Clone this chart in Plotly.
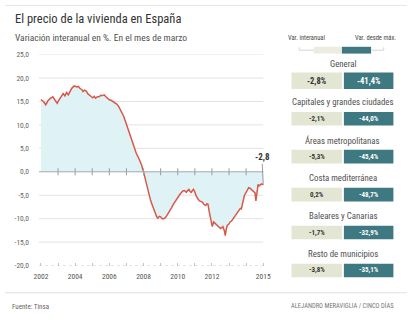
import plotly.graph_objects as go

# Variación interanual del precio de la vivienda (%), serie Tinsa
anio = [2002.00, 2002.15, 2002.28, 2002.42, 2002.57, 2002.70, 2002.82, 2002.95,
        2003.05, 2003.14, 2003.30, 2003.40, 2003.50, 2003.60, 2003.70, 2003.80, 2003.95,
        2004.10, 2004.20, 2004.27, 2004.40, 2004.46, 2004.55, 2004.65, 2004.75, 2004.84, 2004.95,
        2005.03, 2005.12, 2005.20, 2005.30, 2005.40, 2005.50, 2005.60, 2005.70, 2005.80, 2005.90,
        2006.00, 2006.12, 2006.26, 2006.35, 2006.45, 2006.55, 2006.64, 2006.74, 2006.83, 2006.92,
        2007.00, 2007.10, 2007.20, 2007.30, 2007.40, 2007.50, 2007.58, 2007.68, 2007.78, 2007.88, 2007.97,
        2008.06, 2008.14, 2008.24, 2008.33, 2008.42, 2008.52, 2008.61, 2008.70, 2008.77, 2008.84, 2008.92,
        2009.00, 2009.09, 2009.18, 2009.28, 2009.37, 2009.46, 2009.56, 2009.65, 2009.75, 2009.85, 2009.94,
        2010.04, 2010.13, 2010.22, 2010.30, 2010.40, 2010.50, 2010.58, 2010.65, 2010.72, 2010.79, 2010.86, 2010.92,
        2011.00, 2011.07, 2011.17, 2011.26, 2011.36, 2011.45, 2011.55, 2011.64, 2011.71, 2011.77, 2011.83, 2011.93,
        2012.02, 2012.10, 2012.20, 2012.30, 2012.40, 2012.50, 2012.58, 2012.64, 2012.72, 2012.78, 2012.84, 2012.90, 2012.98,
        2013.06, 2013.15, 2013.25, 2013.35, 2013.44, 2013.52, 2013.60, 2013.66, 2013.72, 2013.78, 2013.82, 2013.90,
        2014.00, 2014.08, 2014.15, 2014.22, 2014.30, 2014.38, 2014.45, 2014.52, 2014.57, 2014.63, 2014.70, 2014.76,
        2014.82, 2014.90, 2015.00]
variacion = [15.4, 15.0, 14.3, 15.2, 15.7, 16.0, 15.3, 14.6,
             15.3, 15.8, 16.7, 16.2, 16.9, 16.4, 17.2, 17.8, 18.3,
             18.1, 18.2, 17.8, 17.5, 17.1, 17.4, 17.2, 16.6, 16.25, 16.0,
             15.8, 16.1, 15.7, 16.0, 16.0, 16.3, 16.25, 16.4, 16.0, 15.6,
             15.35, 15.2, 14.9, 14.7, 14.4, 13.9, 13.3, 12.6, 11.9, 11.0,
             10.1, 9.1, 8.1, 6.9, 5.6, 4.7, 3.9, 3.2, 2.5, 1.5, 0.4,
             -1.0, -2.4, -3.8, -5.1, -6.2, -7.2, -8.2, -9.0, -9.6, -9.9, -9.5,
             -9.6, -10.0, -10.0, -9.8, -9.3, -8.8, -8.3, -7.6, -6.9, -6.3, -5.8,
             -5.3, -4.8, -4.4, -4.1, -4.0, -4.4, -4.0, -3.75, -4.2, -4.4, -4.0, -3.75,
             -4.3, -5.1, -5.7, -6.2, -6.3, -6.5, -7.0, -7.2, -6.8, -6.9, -8.3, -10.0,
             -11.7, -10.7, -11.0, -11.4, -11.8, -12.1, -11.9, -11.7, -12.5, -13.6, -12.2, -11.4, -11.2,
             -10.7, -10.5, -10.0, -9.6, -9.0, -8.6, -8.3, -7.8, -7.9, -6.8, -5.8, -5.0,
             -4.4, -3.9, -3.4, -3.5, -3.75, -3.9, -4.1, -4.5, -6.2, -4.0, -2.7, -3.0,
             -2.9, -2.6, -2.8]

y_ticks = [25, 20, 15, 10, 5, 0, -5, -10, -15, -20]
y_tick_text = ["25,0", "20,0", "15,0", "10,0", "5,0", "0,0", "-5,0", "-10,0", "-15,0", "-20,0"]
x_ticks = [2002, 2004, 2006, 2008, 2010, 2012, 2015]
x_tick_text = ["2002", "2004", "2006", "2008", "2010", "2012", "2015"]
anios_marca = [2003, 2004, 2005, 2006, 2007, 2008, 2009, 2010, 2011, 2012, 2013, 2014]

# Panel lateral: variación interanual y variación desde máximos
zonas = ["General", "Capitales y grandes ciudades", "Áreas metropolitanas",
         "Costa mediterránea", "Baleares y Canarias", "Resto de municipios"]
var_interanual = ["-2,8%", "-2,1%", "-5,3%", "0,2%", "-1,7%", "-3,8%"]
var_desde_max = ["-41,4%", "-44,0%", "-45,4%", "-48,7%", "-32,9%", "-35,1%"]

W, H = 414, 326
FONT = "Liberation Sans Narrow, Arial Narrow, Roboto Condensed, Liberation Sans, Arial, sans-serif"
LINE = "#d9584a"
FILL = "#dff3f7"
BEIGE = "#e4e6d4"
TEAL = "#3e7880"


def px(x):
    return x / W


def py(y):
    return 1 - y / H


fig = go.Figure()

fig.add_trace(go.Scatter(
    x=anio, y=variacion, mode="lines", fill="tozeroy", fillcolor=FILL,
    line=dict(color=LINE, width=1.5), hoverinfo="skip", showlegend=False))

# small year ticks on the zero line
fig.add_trace(go.Scatter(
    x=anios_marca, y=[0] * len(anios_marca), mode="markers",
    marker=dict(symbol="line-ns", size=5, line=dict(color="#9a9a9a", width=1)),
    hoverinfo="skip", showlegend=False))

shapes = []
for v in y_ticks:
    if v in (0, -20):
        continue
    shapes.append(dict(type="line", xref="paper", yref="y", x0=px(35), x1=px(266), y0=v, y1=v,
                       line=dict(color="#e2e2e2", width=1), layer="below"))
shapes.append(dict(type="line", xref="paper", yref="y", x0=px(35), x1=px(266), y0=0, y1=0,
                   line=dict(color="#a8a8a8", width=1)))
shapes.append(dict(type="line", xref="paper", yref="y", x0=px(35), x1=px(266), y0=-20, y1=-20,
                   line=dict(color="#c4c4c4", width=1, dash="dot")))

# frame lines
shapes.append(dict(type="line", xref="paper", yref="paper", x0=0, x1=1, y0=py(1.5), y1=py(1.5),
                   line=dict(color="#e6e6e6", width=1)))
shapes.append(dict(type="line", xref="paper", yref="paper", x0=0, x1=1, y0=py(297), y1=py(297),
                   line=dict(color="#e0e0e0", width=1)))

annotations = [
    dict(text="El precio de la vivienda en España", x=px(8), y=py(15), xref="paper", yref="paper",
         xanchor="left", yanchor="middle", showarrow=False,
         font=dict(family=FONT, size=12.5, color="#333333")),
    dict(text="Variación interanual en %. En el mes de marzo", x=px(8), y=py(34), xref="paper",
         yref="paper", xanchor="left", yanchor="middle", showarrow=False,
         font=dict(family=FONT, size=9.5, color="#505050")),
    dict(text="<b>-2,8</b>", x=anio[-1], y=variacion[-1], xref="x", yref="y", showarrow=True,
         arrowhead=0, arrowwidth=1, arrowcolor="#9a9a9a", ax=-1, ay=-21, yanchor="bottom",
         font=dict(family=FONT, size=9, color="#333333")),
    dict(text="Fuente: Tinsa", x=px(5), y=py(312), xref="paper", yref="paper", xanchor="left",
         yanchor="middle", showarrow=False, font=dict(family=FONT, size=7, color="#666666")),
    dict(text="ALEJANDRO MERAVIGLIA / CINCO DÍAS", x=px(403), y=py(310), xref="paper", yref="paper",
         xanchor="right", yanchor="middle", showarrow=False,
         font=dict(family=FONT, size=6.5, color="#777777")),
    dict(text="Var. interanual", x=px(310), y=py(35), xref="paper", yref="paper",
         xanchor="center", yanchor="middle", showarrow=False,
         font=dict(family=FONT, size=6.5, color="#444444")),
    dict(text="Var. desde máx.", x=px(382), y=py(35), xref="paper", yref="paper",
         xanchor="center", yanchor="middle", showarrow=False,
         font=dict(family=FONT, size=6.5, color="#444444")),
]

# legend key of the side panel
shapes.append(dict(type="rect", xref="paper", yref="paper", x0=px(318), x1=px(347), y0=py(44), y1=py(51),
                   line=dict(width=0), fillcolor="#eceddf"))
shapes.append(dict(type="rect", xref="paper", yref="paper", x0=px(347), x1=px(377), y0=py(44), y1=py(51),
                   line=dict(width=0), fillcolor=TEAL))
for xa, xb, xt in ((303, 318, 303), (377, 390, 390)):
    shapes.append(dict(type="line", xref="paper", yref="paper", x0=px(xa), x1=px(xb), y0=py(47.5), y1=py(47.5),
                       line=dict(color="#d6d6d6", width=1)))
    shapes.append(dict(type="line", xref="paper", yref="paper", x0=px(xt), x1=px(xt), y0=py(44.5), y1=py(47.5),
                       line=dict(color="#d6d6d6", width=1)))

# one row per zone
for i, zona in enumerate(zonas):
    ty = 62 + i * 39
    cy = 79 + i * 39
    h = 8.5 if i == 0 else 7
    annotations.append(dict(text=zona, x=px(348), y=py(ty), xref="paper", yref="paper",
                            xanchor="center", yanchor="middle", showarrow=False,
                            font=dict(family=FONT, size=8.8, color="#505050")))
    shapes.append(dict(type="rect", xref="paper", yref="paper", x0=px(295), x1=px(347),
                       y0=py(cy - h), y1=py(cy + h), line=dict(width=0), fillcolor=BEIGE))
    shapes.append(dict(type="rect", xref="paper", yref="paper", x0=px(349), x1=px(400),
                       y0=py(cy - h), y1=py(cy + h), line=dict(width=0), fillcolor=TEAL))
    fs = 8.5 if i == 0 else 7
    annotations.append(dict(text=f"<b>{var_interanual[i]}</b>", x=px(321), y=py(cy), xref="paper",
                            yref="paper", xanchor="center", yanchor="middle", showarrow=False,
                            font=dict(family=FONT, size=fs, color="#333333")))
    annotations.append(dict(text=f"<b>{var_desde_max[i]}</b>", x=px(374.5), y=py(cy), xref="paper",
                            yref="paper", xanchor="center", yanchor="middle", showarrow=False,
                            font=dict(family=FONT, size=fs, color="#ffffff")))

fig.update_layout(
    width=W, height=H, margin=dict(l=0, r=0, t=0, b=0),
    paper_bgcolor="white", plot_bgcolor="rgba(0,0,0,0)",
    shapes=shapes, annotations=annotations, showlegend=False,
    xaxis=dict(domain=[px(35), px(267)], range=[2001.886, 2015.06], showgrid=False, zeroline=False,
               showline=False, tickmode="array", tickvals=x_ticks, ticktext=x_tick_text,
               ticks="inside", ticklen=3, tickcolor="#c4c4c4", ticklabelstandoff=5,
               minor=dict(ticks="inside", ticklen=3, tickcolor="#c4c4c4", dtick=1, tick0=2002),
               tickfont=dict(family=FONT, size=7.5, color="#555555")),
    yaxis=dict(domain=[py(269), py(52)], range=[-20, 25], showgrid=False, zeroline=False,
               showline=False, tickmode="array", tickvals=y_ticks, ticktext=y_tick_text,
               ticks="", ticklabelstandoff=9,
               tickfont=dict(family=FONT, size=7.5, color="#666666")),
)

fig.write_html("out.html")
